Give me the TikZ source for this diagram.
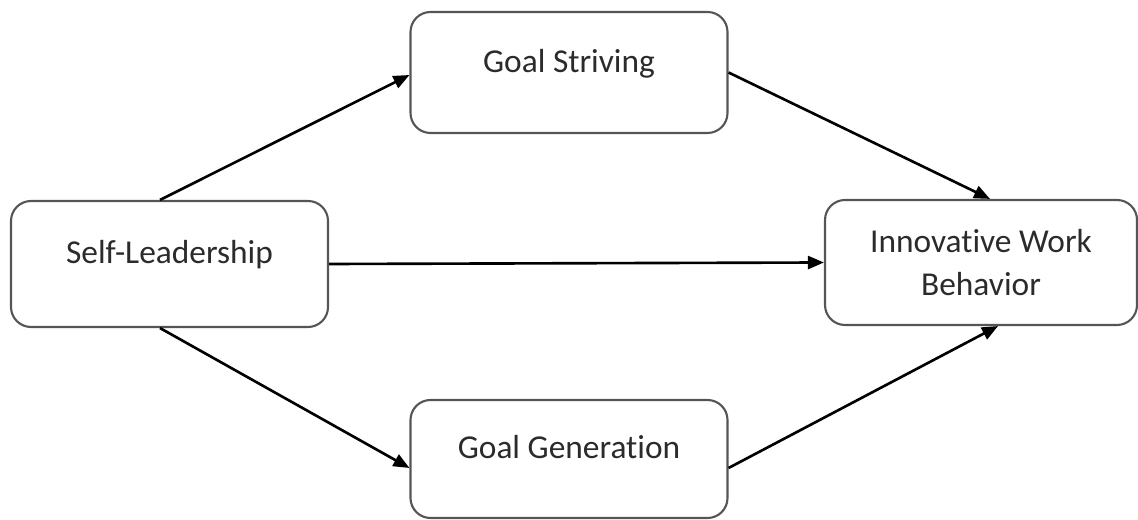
\documentclass[tikz,border=0pt]{standalone}
\usepackage{fontspec}
\setmainfont{Carlito}[Ligatures={NoCommon}]
\usetikzlibrary{arrows.meta}
\definecolor{boxline}{HTML}{555555}
\definecolor{boxtext}{HTML}{2B2B2B}
\begin{document}
\begin{tikzpicture}[
    box/.style={draw=boxline, line width=1.2pt, rounded corners=0.4cm, fill=white,
        text=boxtext, font=\fontsize{19}{24.5}\selectfont, align=center,
        minimum width=6.34cm, inner sep=0pt},
    arr/.style={-{Triangle[length=0.32cm,width=0.26cm]}, line width=1.5pt, black}
]
    \useasboundingbox (0,0) rectangle (22.76,10.4);

    % boxes
    \node[box, minimum height=2.52cm, text height=0.45cm, text depth=0.45cm] (lead) at (3.39,5.12) {Self-Leadership};
    \node[box, minimum height=2.42cm, text height=0.45cm, text depth=0.45cm] (striv) at (11.38,8.95) {Goal Striving};
    \node[box, minimum height=2.36cm, text height=0.45cm, text depth=0.45cm] (gener) at (11.38,1.22) {Goal Generation};
    \node[box, minimum width=6.24cm, minimum height=2.5cm] (iwb) at (19.62,5.15) {Innovative Work\\Behavior};

    % paths
    \draw[arr] ([xshift=-0.19cm]lead.north) -- ([yshift=-0.05cm]striv.west);
    \draw[arr] (striv.east) -- ([xshift=0.18cm]iwb.north);
    \draw[arr] (lead.east) -- (iwb.west);
    \draw[arr] ([xshift=-0.19cm]lead.south) -- ([yshift=-0.18cm]gener.west);
    \draw[arr] ([yshift=-0.18cm]gener.east) -- ([xshift=0.34cm]iwb.south);
\end{tikzpicture}
\end{document}
